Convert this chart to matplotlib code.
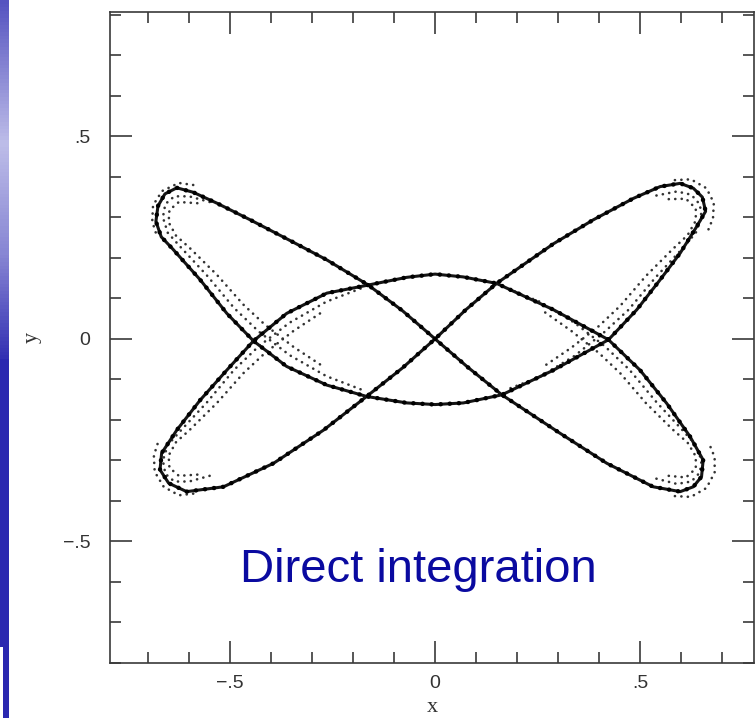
import numpy as np
import matplotlib
matplotlib.use("Agg")
import matplotlib.pyplot as plt
from matplotlib.ticker import MultipleLocator, FixedLocator, FixedFormatter

nan = np.nan

# Orbit track in the (x, y) plane, traced once around the closed loop
orbit_x = [
    0.000, -0.080, -0.163, -0.264, -0.354, -0.451, -0.532, -0.590, -0.630,
    -0.659, -0.676, -0.681, -0.668, -0.640, -0.573, -0.508, -0.443, -0.362,
    -0.264, -0.167, -0.069, 0.000, 0.069, 0.163, 0.289, 0.423, 0.492, 0.549,
    0.598, 0.638, 0.660, 0.652, 0.630, 0.598, 0.549, 0.484, 0.386, 0.289,
    0.150, 0.075, 0.000, -0.080, -0.167, -0.272, -0.394, -0.516, -0.606,
    -0.650, -0.671, -0.667, -0.630, -0.573, -0.508, -0.443, -0.362, -0.264,
    -0.163, -0.069, 0.000, 0.069, 0.150, 0.289, 0.423, 0.500, 0.565, 0.622,
    0.654, 0.650, 0.630, 0.598, 0.532, 0.419, 0.305, 0.163, 0.080, 0.000,
]
orbit_y = [
    0.000, 0.070, 0.133, 0.195, 0.243, 0.294, 0.335, 0.362, 0.373,
    0.358, 0.328, 0.290, 0.252, 0.222, 0.146, 0.063, -0.005, -0.068,
    -0.114, -0.142, -0.158, -0.162, -0.158, -0.138, -0.077, -0.002, 0.072, 0.146,
    0.212, 0.277, 0.315, 0.350, 0.372, 0.384, 0.376, 0.347, 0.294, 0.235,
    0.137, 0.072, 0.000, -0.072, -0.142, -0.225, -0.307, -0.365, -0.377,
    -0.356, -0.323, -0.282, -0.225, -0.151, -0.077, -0.005, 0.063, 0.113,
    0.133, 0.152, 0.160, 0.153, 0.137, 0.072, -0.002, -0.077, -0.159, -0.241,
    -0.299, -0.340, -0.365, -0.377, -0.365, -0.307, -0.233, -0.138, -0.070, 0.000,
]

# Neighbouring passes that spread out around the four lobes (NaN separates passes)
spread_x = [
    # upper-left lobe
    -0.550, -0.600, -0.636, -0.658, -0.664, -0.652, -0.622, -0.556, -0.490, -0.430, -0.355, -0.265, -0.180, nan,
    -0.580, -0.625, -0.648, -0.650, -0.632, -0.598, -0.532, -0.468, -0.415, -0.345, -0.270, nan,
    -0.590, -0.625, -0.666, -0.688, -0.690, -0.680, nan,
    # lower-left lobe
    -0.550, -0.600, -0.636, -0.658, -0.664, -0.652, -0.622, -0.556, -0.490, -0.430, -0.355, -0.265, -0.180, nan,
    -0.580, -0.625, -0.648, -0.650, -0.632, -0.598, -0.532, -0.468, -0.415, -0.345, -0.270, nan,
    -0.590, -0.625, -0.662, -0.684, -0.686, -0.676, nan,
    # upper-right lobe
    0.540, 0.590, 0.625, 0.646, 0.650, 0.636, 0.606, 0.538, 0.472, 0.412, 0.340, 0.255, 0.175, nan,
    0.570, 0.612, 0.636, 0.636, 0.616, 0.580, 0.514, 0.452, 0.400, 0.332, 0.262, nan,
    0.585, 0.624, 0.662, 0.680, 0.678, 0.666, nan,
    # lower-right lobe
    0.540, 0.590, 0.625, 0.646, 0.650, 0.636, 0.606, 0.540, 0.474, 0.414, 0.340, 0.255, 0.175, nan,
    0.570, 0.612, 0.636, 0.636, 0.616, 0.580, 0.514, 0.452, 0.400, 0.332, 0.262, nan,
    0.585, 0.624, 0.662, 0.682, 0.682, 0.670,
]
spread_y = [
    # upper-left lobe
    0.338, 0.352, 0.352, 0.333, 0.300, 0.262, 0.228, 0.156, 0.076, 0.018, -0.040, -0.092, -0.125, nan,
    0.335, 0.338, 0.318, 0.288, 0.255, 0.224, 0.158, 0.085, 0.035, -0.020, -0.070, nan,
    0.380, 0.385, 0.365, 0.330, 0.290, 0.258, nan,
    # lower-left lobe
    -0.338, -0.352, -0.352, -0.333, -0.300, -0.262, -0.228, -0.156, -0.076, -0.018, 0.040, 0.092, 0.125, nan,
    -0.335, -0.338, -0.318, -0.288, -0.255, -0.224, -0.158, -0.085, -0.035, 0.020, 0.070, nan,
    -0.382, -0.386, -0.365, -0.328, -0.288, -0.256, nan,
    # upper-right lobe
    0.354, 0.364, 0.356, 0.332, 0.300, 0.262, 0.226, 0.152, 0.072, 0.016, -0.042, -0.094, -0.125, nan,
    0.345, 0.346, 0.322, 0.292, 0.256, 0.222, 0.155, 0.082, 0.032, -0.022, -0.070, nan,
    0.392, 0.394, 0.372, 0.336, 0.298, 0.268, nan,
    # lower-right lobe
    -0.345, -0.358, -0.352, -0.330, -0.300, -0.262, -0.228, -0.156, -0.076, -0.018, 0.040, 0.092, 0.125, nan,
    -0.338, -0.342, -0.320, -0.290, -0.256, -0.224, -0.158, -0.085, -0.035, 0.020, 0.070, nan,
    -0.388, -0.390, -0.368, -0.330, -0.292, -0.262,
]

x_ticks = [-0.5, 0.0, 0.5]
x_tick_labels = ["\u2212.5", "0", ".5"]
y_ticks = [-0.5, 0.0, 0.5]
y_tick_labels = ["\u2212.5", "0", ".5"]

fig = plt.figure(figsize=(7.55, 7.18), dpi=100)
fig.patch.set_facecolor("white")

# Blue slide stripe along the left edge
stripe = fig.add_axes([0, 0, 9 / 755, 1])
grad = np.concatenate([
    np.linspace(0.25, 0.85, 40),
    np.linspace(0.85, 0.55, 30),
    np.linspace(0.55, 0.05, 30),
    np.zeros(100),
])
stripe.imshow(grad[:, None], aspect="auto", cmap=matplotlib.colors.LinearSegmentedColormap.from_list(
    "slide", ["#2b28b0", "#d6d6f2"]), vmin=0, vmax=1, extent=[0, 1, 0, 1], origin="upper")
stripe.set_axis_off()
notch = fig.add_axes([0, 0, 3 / 755, 71 / 718])
notch.set_axis_off()
notch.add_patch(plt.Rectangle((0, 0), 1, 1, color="white", transform=notch.transAxes))

ax = fig.add_axes([110 / 755, 55 / 718, 644 / 755, 651 / 718])
# scattered neighbouring passes: round dots along each pass
ax.plot(spread_x, spread_y, color="#333333", lw=1.9, linestyle=(0, (0.05, 2.4)),
        dash_capstyle="round")
ax.plot(orbit_x, orbit_y, color="#151515", lw=2.2, solid_joinstyle="round")
# dotted texture riding on the main track
ax.plot(orbit_x, orbit_y, color="#000000", lw=3.2, linestyle=(0, (0.05, 2.0)),
        dash_capstyle="round")

ax.set_xlim(-0.793, 0.778)
ax.set_ylim(-0.800, 0.807)

ink = "#3a3a3a"
for s in ax.spines.values():
    s.set_color(ink)
    s.set_linewidth(1.2)

ax.xaxis.set_major_locator(FixedLocator(x_ticks))
ax.xaxis.set_major_formatter(FixedFormatter(x_tick_labels))
ax.yaxis.set_major_locator(FixedLocator(y_ticks))
ax.yaxis.set_major_formatter(FixedFormatter(y_tick_labels))
ax.xaxis.set_minor_locator(MultipleLocator(0.1))
ax.yaxis.set_minor_locator(MultipleLocator(0.1))
ax.tick_params(which="both", direction="in", top=True, right=True, color=ink)
ax.tick_params(which="major", length=16, width=1.2)
ax.tick_params(which="minor", length=8, width=1.2)
ax.tick_params(axis="x", which="major", pad=9)
ax.tick_params(axis="y", which="major", pad=14)
for lab in ax.get_xticklabels() + ax.get_yticklabels():
    lab.set_fontfamily("Liberation Sans")
    lab.set_fontsize(14)
    lab.set_color("#333333")

ax.set_xlabel("x", family="Liberation Serif", fontsize=16, color="#333333", labelpad=4)
ax.set_ylabel("y", family="Liberation Serif", fontsize=16, color="#333333", labelpad=15)

ax.text(-0.04, -0.60, "Direct integration", family="Liberation Sans", fontsize=34,
        color="#0a0aa0", ha="center", va="baseline")

fig.savefig("out.png", dpi=100, facecolor="white")
